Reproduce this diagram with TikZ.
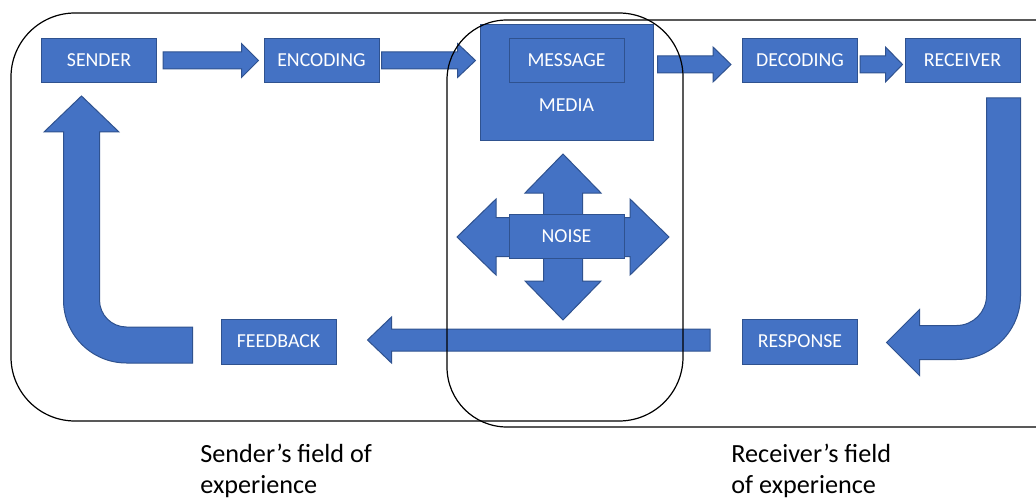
\documentclass[tikz,border=0pt]{standalone}
\usepackage{fontspec}
\setmainfont{Carlito}
\usetikzlibrary{calc}
\definecolor{Cbox}{HTML}{4472C4}
\definecolor{Cedge}{HTML}{2F528F}

\tikzset{
  box/.style={draw=Cedge, fill=Cbox, line width=0.5pt, text=white,
    minimum width=57.5pt, minimum height=22pt, inner sep=0pt,
    font=\fontsize{9.9}{11}\selectfont},
  blockarrow/.style={draw=Cedge, fill=Cbox, line width=0.5pt, line join=miter},
  field/.style={draw=black, line width=0.6pt},
  caption/.style={anchor=north west, align=left, inner sep=0pt,
    font=\fontsize{13.1}{15.5}\selectfont}
}

% flat block arrow: #1 tail, #2 tip, #3 half shaft, #4 half head, #5 head length
\newcommand{\hblockarrow}[5]{%
  \draw[blockarrow] let \p1=#1, \p2=#2, \n1={sign(\x2-\x1)} in
    (\x1,\y1+#3) -- ({\x2-(\n1)*#5},\y1+#3) -- ({\x2-(\n1)*#5},\y1+#4)
    -- (\x2,\y1) -- ({\x2-(\n1)*#5},\y1-#4) -- ({\x2-(\n1)*#5},\y1-#3)
    -- (\x1,\y1-#3) -- cycle;}

\begin{document}
\begin{tikzpicture}[x=0.5pt, y=-0.5pt]
  \useasboundingbox (0,0) rectangle (1036,497);

  %% top row
  \node[box] (sender)   at (99,60.5)  {SENDER};
  \node[box] (encoding) at (321.5,60.5) {ENCODING};
  \node[box, minimum width=86.5pt, minimum height=58pt] (media) at (566.5,83) {};
  \node[box] (message)  at (566.5,60.5) {MESSAGE};
  \node[font=\fontsize{9.9}{11}\selectfont, text=white] (medianame) at (566.5,105.5) {MEDIA};
  \node[box] (decoding) at (800,60.5)   {DECODING};
  \node[box] (receiver) at (962.5,60.5) {RECEIVER};

  %% bottom row
  \node[box, minimum height=22.5pt] (response) at (800,341.5)   {RESPONSE};
  \node[box, minimum height=22.5pt] (feedback) at (278.5,341.5) {FEEDBACK};

  %% noise, four-way arrow behind its box
  \coordinate (noisemid) at (563,237);
  \draw[blockarrow, shift={(noisemid)}]
    (106,0) -- (67,-38) -- (67,-19.5) -- (19.5,-19.5) -- (19.5,-44) -- (38,-44)
    -- (0,-83) -- (-38,-44) -- (-19.5,-44) -- (-19.5,-19.5) -- (-67,-19.5)
    -- (-67,-38) -- (-106,0) -- (-67,38) -- (-67,19.5) -- (-19.5,19.5)
    -- (-19.5,44) -- (-38,44) -- (0,83) -- (38,44) -- (19.5,44) -- (19.5,19.5)
    -- (67,19.5) -- (67,38) -- cycle;
  \node[box, minimum height=22pt] (noise) at (566.5,236) {NOISE};

  %% flow along the top
  \hblockarrow{($(sender.east)+(6,0)$)}{($(encoding.west)+(-5,0)$)}{4.25pt}{8.5pt}{8.5pt}
  \hblockarrow{($(encoding.east)+(2,0)$)}{($(media.west |- encoding.east)+(-4,0)$)}{4.25pt}{8.5pt}{9pt}
  \hblockarrow{($(media.east |- decoding.east)+(4,4)$)}{($(decoding.west)+(-11,4)$)}{4.25pt}{8.75pt}{9pt}
  \hblockarrow{($(decoding.east)+(2,4)$)}{($(receiver.west)+(-2,4)$)}{4.25pt}{8.75pt}{8.5pt}

  %% receiver -> response
  \draw[blockarrow] ($(receiver.south east)+(0,15)$)
    -- ++(0,197.5) arc[start angle=0, end angle=-90, radius=32pt]
    -- ++(-37,0) -- ++(0,16) -- ++(-33,-33) -- ++(33,-33) -- ++(0,16)
    -- ++(37,0) arc[start angle=-90, end angle=0, radius=15pt]
    -- ++(0,-197.5) -- cycle;

  %% response -> feedback
  \hblockarrow{($(response.west)+(-32,-1.5)$)}{($(feedback.east)+(31,-1.5)$)}{5.5pt}{11.5pt}{12pt}

  %% feedback -> sender
  \draw[blockarrow] ($(feedback.west)+(-28,-14.5)$)
    -- ++(-66,0) arc[start angle=-90, end angle=-180, radius=13.5pt]
    -- ++(0,-168) -- ++(19.5,0) -- ++(-37.5,-36) -- ++(-37.5,36) -- ++(19.5,0)
    -- ++(0,168) arc[start angle=180, end angle=270, radius=31.5pt]
    -- ++(66,0) -- cycle;

  %% fields of experience
  \draw[field, rounded corners=32pt] (11,13) rectangle (683,421);
  \draw[field, rounded corners=30pt] (447,20) rectangle (1110,427);

  \node[caption] (sendercap)   at (200,444) {Sender’s field of\\experience};
  \node[caption] (receivercap) at (731,444) {Receiver’s field\\of experience};
\end{tikzpicture}
\end{document}
